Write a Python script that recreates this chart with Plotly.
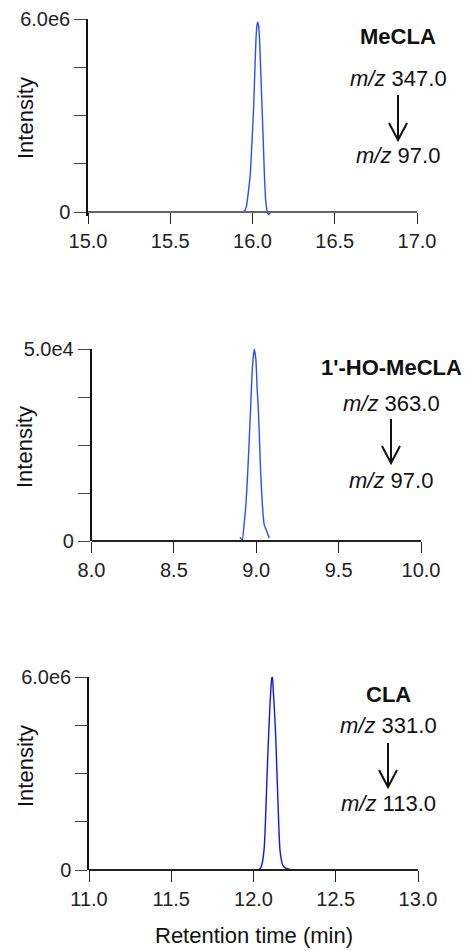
import plotly.graph_objects as go

W, H = 465, 951

# ---------------- data ----------------
# Panel 1: MeCLA  (retention time, min ; intensity)
t1 = [15.942, 15.954, 15.964, 15.974, 15.987, 15.997, 16.007, 16.015, 16.021, 16.027,
      16.032, 16.037, 16.043, 16.050, 16.058, 16.066, 16.072, 16.080, 16.088, 16.093,
      16.099, 16.106, 16.118]
i1 = [0.0, 0.05e6, 0.2e6, 0.59e6, 1.21e6, 2.2e6, 3.26e6, 4.5e6, 5.35e6, 5.8e6,
      5.9e6, 5.8e6, 5.35e6, 4.4e6, 3.26e6, 2.1e6, 1.21e6, 0.37e6, 0.05e6, -0.04e6,
      -0.07e6, -0.03e6, 0.0]

# Panel 2: 1'-HO-MeCLA
t2 = [8.901, 8.915, 8.927, 8.938, 8.948, 8.957, 8.966, 8.974, 8.980, 8.988,
      8.998, 9.005, 9.012, 9.020, 9.027, 9.037, 9.047, 9.050, 9.057, 9.068, 9.079]
i2 = [1000, 300, 4700, 10000, 17700, 26000, 34900, 43000, 47100, 50000,
      47100, 40000, 34900, 26000, 17700, 9500, 4600, 4000, 3300, 2000, 800]

# Panel 3: CLA
t3 = [11.989, 12.020, 12.040, 12.050, 12.064, 12.072, 12.080, 12.088, 12.096, 12.104,
      12.111, 12.115, 12.120, 12.128, 12.135, 12.142, 12.149, 12.155, 12.161, 12.170,
      12.177, 12.195, 12.222, 12.272]
i3 = [0.0, 0.005e6, 0.04e6, 0.155e6, 0.62e6, 1.4e6, 2.59e6, 3.7e6, 4.67e6, 5.5e6,
      5.96e6, 6.0e6, 5.6e6, 4.9e6, 4.15e6, 3.1e6, 2.08e6, 1.2e6, 0.62e6, 0.3e6,
      0.155e6, 0.06e6, 0.02e6, 0.0]

x_ranges = [[15.0, 17.0], [8.0, 10.0], [11.0, 13.0]]
x_ticks = [[15.0, 15.5, 16.0, 16.5, 17.0], [8.0, 8.5, 9.0, 9.5, 10.0], [11.0, 11.5, 12.0, 12.5, 13.0]]
x_ticktext = [["15.0", "15.5", "16.0", "16.5", "17.0"], ["8.0", "8.5", "9.0", "9.5", "10.0"],
              ["11.0", "11.5", "12.0", "12.5", "13.0"]]
y_max = [6.0e6, 5.0e4, 6.0e6]
y_top_label = ["6.0e6", "5.0e4", "6.0e6"]
compounds = ["<b>MeCLA</b>", "<b>1'-HO-MeCLA</b>", "<b>CLA</b>"]
precursor = ["<i>m/z</i> 347.0", "<i>m/z</i> 363.0", "<i>m/z</i> 331.0"]
product = ["<i>m/z</i> 97.0", "<i>m/z</i> 97.0", "<i>m/z</i> 113.0"]

# ---------------- layout (pixel geometry) ----------------
def px(x):
    return x / W

def py(y):
    return 1 - y / H

# left, right, top (max), zero-line pixel positions for each panel
geo = [(88, 417, 19, 212), (91.5, 421, 349, 541), (89, 418, 677, 870)]
y_neg = [-0.12e6, 0.0, 0.0]

FONT = "Arial, Liberation Sans, Helvetica, sans-serif"
fig = go.Figure()
traces = [(t1, i1, "#2a4dff"), (t2, i2, "#2a4dff"), (t3, i3, "#1414f0")]

layout = dict(width=W, height=H, margin=dict(l=0, r=0, t=0, b=0, pad=0, autoexpand=False),
              paper_bgcolor="white", plot_bgcolor="white", showlegend=False,
              font=dict(family=FONT, color="#111"))

xaxis_colors = ["#666666", "#222222", "#222222"]
for k in range(3):
    t, inten, col = traces[k]
    xa = "x" if k == 0 else f"x{k+1}"
    ya = "y" if k == 0 else f"y{k+1}"
    fig.add_trace(go.Scatter(x=t, y=inten, mode="lines", xaxis=xa, yaxis=ya,
                             line=dict(color=col, width=1.4, shape="spline", smoothing=0.6),
                             hoverinfo="skip"))
    l, r, top, zero = geo[k]
    ymax = y_max[k]
    pxper = (zero - top) / ymax
    bottom_px = zero + (-y_neg[k]) * pxper
    xname = "xaxis" if k == 0 else f"xaxis{k+1}"
    yname = "yaxis" if k == 0 else f"yaxis{k+1}"
    layout[xname] = dict(domain=[px(l), px(r)], range=x_ranges[k], anchor="free",
                         position=py(zero), tickvals=x_ticks[k], ticktext=x_ticktext[k],
                         showline=True, linecolor=xaxis_colors[k], linewidth=1.5,
                         ticks="outside", ticklen=11, tickwidth=1.3, tickcolor="#222",
                         showgrid=False, zeroline=False, automargin=False,
                         tickfont=dict(size=20, color="#222", family=FONT))
    layout[yname] = dict(domain=[py(bottom_px), py(top)], range=[y_neg[k], ymax],
                         anchor=xa, tickvals=[0, ymax * 0.25, ymax * 0.5, ymax * 0.75, ymax],
                         ticktext=["0", "", "", "", y_top_label[k]],
                         showline=True, linecolor="#111", linewidth=1.5,
                         ticks="outside", ticklen=12, tickwidth=1.3, tickcolor="#444",
                         showgrid=False, zeroline=False, automargin=False,
                         tickfont=dict(size=20, color="#222", family=FONT))

fig.update_layout(**layout)

# ---------------- annotations ----------------
ann = []
intensity_y = [118, 447, 766]
for yy in intensity_y:
    ann.append(dict(x=px(25), y=py(yy), xref="paper", yref="paper", text="Intensity",
                    textangle=-90, showarrow=False, xanchor="center", yanchor="middle",
                    font=dict(size=22, color="#111", family=FONT)))
ann.append(dict(x=px(253.5), y=py(935), xref="paper", yref="paper", text="Retention time (min)",
                showarrow=False, xanchor="center", yanchor="middle",
                font=dict(size=22, color="#111", family=FONT)))

label_pos = [  # (x, compound_y, precursor_y, product_y, arrow_top, arrow_bottom)
    (398, 37, 78, 155, 95, 140),
    (391, 367, 403, 480, 419, 463),
    (388, 694, 725, 803, 743, 787),
]
shapes = []
for k, (cx, cy, pry, pdy, a0, a1) in enumerate(label_pos):
    ann.append(dict(x=px(cx), y=py(cy), xref="paper", yref="paper", text=compounds[k],
                    showarrow=False, xanchor="center", yanchor="middle",
                    font=dict(size=22, color="#111", family=FONT)))
    ann.append(dict(x=px(cx), y=py(pry), xref="paper", yref="paper", text=precursor[k],
                    showarrow=False, xanchor="center", yanchor="middle",
                    font=dict(size=22, color="#111", family=FONT)))
    ann.append(dict(x=px(cx), y=py(pdy), xref="paper", yref="paper", text=product[k],
                    showarrow=False, xanchor="center", yanchor="middle",
                    font=dict(size=22, color="#111", family=FONT)))
    shapes.append(dict(type="line", xref="paper", yref="paper", x0=px(cx), x1=px(cx),
                       y0=py(a0), y1=py(a1), line=dict(color="#111", width=2)))
    shapes.append(dict(type="path", xref="paper", yref="paper",
                       path=f"M {px(cx-9)},{py(a1-17)} L {px(cx)},{py(a1)} L {px(cx+9)},{py(a1-17)}",
                       line=dict(color="#111", width=2)))

fig.update_layout(annotations=ann, shapes=shapes)
fig.write_html("out.html")
